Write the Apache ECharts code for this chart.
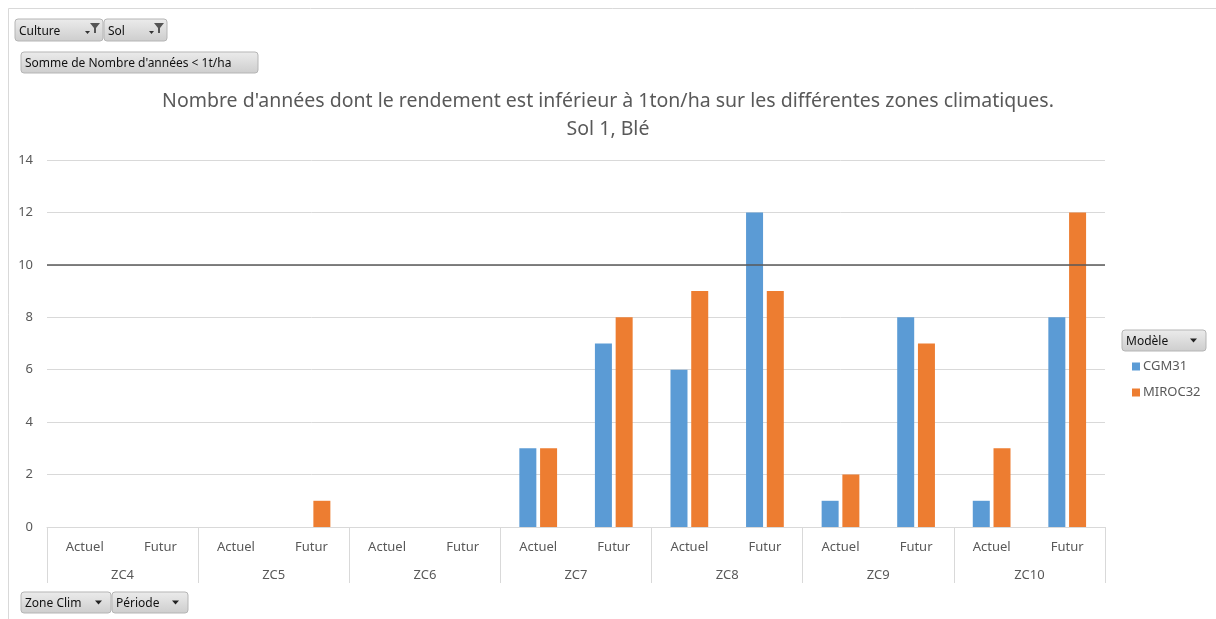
<!DOCTYPE html>
<html><head><meta charset="utf-8">
<script src="https://cdn.jsdelivr.net/npm/echarts@6/dist/echarts.min.js"></script>
<style>html,body{margin:0;padding:0;background:#fff}#c{width:1216px;height:619px}</style>
</head><body><div id="c"></div>
<script>
const zones = ['ZC4','ZC5','ZC6','ZC7','ZC8','ZC9','ZC10'];
const periods = ['Actuel','Futur'];
const cgm31 = [0,0, 0,0, 0,0, 3,7, 6,12, 1,8, 1,8];
const miroc32 = [0,0, 0,1, 0,0, 3,8, 9,9, 2,7, 3,12];
const yTicks = [0,2,4,6,8,10,12,14];
const threshold = 10;

const cats = [];
zones.forEach(z => periods.forEach(p => cats.push(p)));
const FONT = 'Noto Sans';
const TXT = '#595959';

function button(x, y, w, h, label, kind) {
  const children = [
    {type:'rect', shape:{x:0,y:0,width:w,height:h,r:3},
     style:{fill:new echarts.graphic.LinearGradient(0,0,0,1,[{offset:0,color:'#ececec'},{offset:1,color:'#cdcdcd'}]), stroke:'#b5b5b5', lineWidth:1}},
    {type:'text', x:4, y:h/2+1.5, style:{text:label, fontFamily:FONT, fontSize:12, fill:'#111', verticalAlign:'middle'}}
  ];
  if (kind === 'filter') {
    children.push({type:'polygon', shape:{points:[[w-13,4],[w-3,4],[w-7,9],[w-7,14],[w-9,14],[w-9,9]]}, style:{fill:'#555'}});
    children.push({type:'polygon', shape:{points:[[w-18,12],[w-13,12],[w-15.5,15]]}, style:{fill:'#333'}});
  } else if (kind === 'drop') {
    children.push({type:'polygon', shape:{points:[[w-16,h/2-2],[w-9,h/2-2],[w-12.5,h/2+2]]}, style:{fill:'#222'}});
  }
  return {type:'group', x:x, y:y, children:children};
}

const chart = echarts.init(document.getElementById('c'));
chart.setOption({
  animation:false,
  backgroundColor:'#fff',
  textStyle:{fontFamily:FONT},
  title:[
    {text:"Nombre d'années dont le rendement est inférieur à 1ton/ha sur les différentes zones climatiques.",
     left:'center', top:91, padding:0,
     textStyle:{fontFamily:FONT, fontSize:19.5, fontWeight:'normal', color:TXT}},
    {text:"Sol 1, Blé",
     left:'center', top:119, padding:0,
     textStyle:{fontFamily:FONT, fontSize:19.5, fontWeight:'normal', color:TXT}}
  ],
  legend:{
    orient:'vertical', left:1127, top:355, itemWidth:8, itemHeight:8, itemGap:13,
    icon:'rect',
    textStyle:{fontFamily:FONT, fontSize:13, color:TXT, padding:[0,0,0,-2]},
    data:['CGM31','MIROC32']
  },
  grid:{left:47, right:111, top:160, bottom:92, containLabel:false},
  xAxis:[
    {type:'category', data:cats, position:'bottom',
     axisLine:{lineStyle:{color:'#d9d9d9'}},
     axisTick:{show:false},
     axisLabel:{color:TXT, fontSize:13, margin:14, interval:0, fontFamily:FONT}},
    {type:'category', data:zones, position:'bottom',
     axisLine:{show:false},
     axisTick:{show:true, length:56, lineStyle:{color:'#d9d9d9'}, alignWithLabel:false, interval:0},
     axisLabel:{color:TXT, fontSize:13, margin:42, interval:0, fontFamily:FONT}}
  ],
  yAxis:{type:'value', min:yTicks[0], max:yTicks[yTicks.length-1], interval:2,
    axisLine:{show:false}, axisTick:{show:false},
    axisLabel:{color:TXT, fontSize:13, margin:14, fontFamily:FONT},
    splitLine:{lineStyle:{color:'#d9d9d9'}}},
  series:[
    {name:'CGM31', type:'bar', xAxisIndex:0, data:cgm31, barWidth:17, barGap:'22%', itemStyle:{color:'#5b9bd5'}},
    {name:'MIROC32', type:'bar', xAxisIndex:0, data:miroc32, barWidth:17, barGap:'22%', itemStyle:{color:'#ed7d31'},
     markLine:{silent:true, symbol:'none', label:{show:false}, z:10,
       lineStyle:{color:'#595959', width:1.5, type:'solid'},
       data:[{yAxis:threshold}]}}
  ],
  graphic:[
    {type:'rect', shape:{x:8.5,y:8.5,width:1215,height:620}, style:{fill:null, stroke:'#d9d9d9', lineWidth:1}, silent:true},
    button(15,19,88,22,'Culture','filter'),
    button(104,19,63,22,'Sol','filter'),
    button(21,52,237,21,"Somme de Nombre d'années < 1t/ha",'none'),
    button(21,592,90,21,'Zone Clim','drop'),
    button(112,592,76,21,'Période','drop'),
    button(1122,330,84,21,'Modèle','drop')
  ]
});
</script></body></html>
